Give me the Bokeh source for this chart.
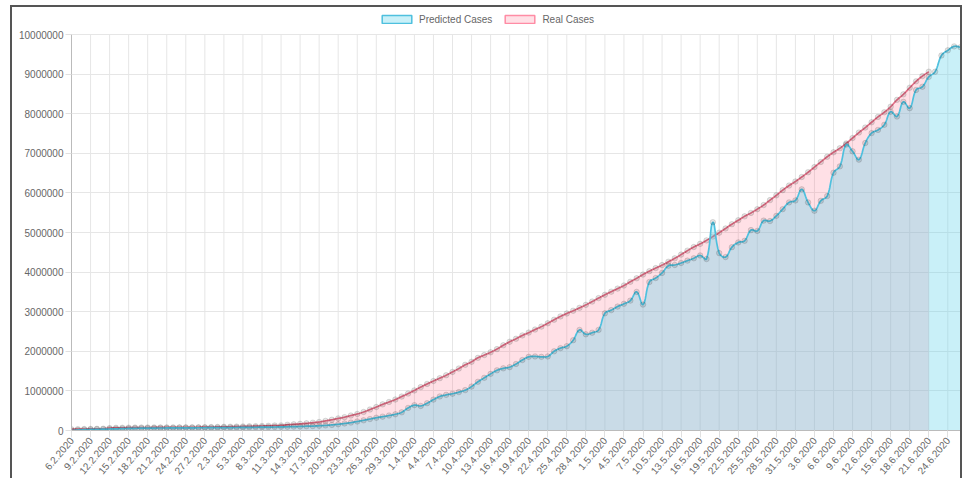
import numpy as np
import pandas as pd
from bokeh.plotting import figure
from bokeh.models import Range1d, FixedTicker, Legend, LegendItem
from bokeh.embed import file_html
from bokeh.resources import INLINE

# ---------------- data ----------------
# daily categories (the source data has no 29 Feb)
dates = [f"{d.day}.{d.month}.2020" for d in pd.date_range("2020-02-06", "2020-06-26")
         if not (d.month == 2 and d.day == 29)]

predicted_cases = [
    0, 12000, 20000, 26000, 30000, 34000, 38000, 42000, 48000, 52000,
    56000, 58000, 60000, 62000, 63000, 64000, 65000, 66000, 67000, 68000,
    69000, 70000, 71000, 72000, 73000, 74000, 76000, 78000, 80000, 82000,
    84000, 86000, 88000, 92000, 95000, 98000, 102000, 108000, 112000, 120000,
    130000, 142000, 158000, 178000, 200000, 228000, 258000, 290000, 322000, 350000,
    378000, 410000, 460000, 570000, 640000, 620000, 690000, 780000, 860000, 900000,
    930000, 970000, 1020000, 1110000, 1230000, 1330000, 1430000, 1520000, 1570000, 1600000,
    1680000, 1780000, 1860000, 1870000, 1860000, 1870000, 2000000, 2080000, 2130000, 2280000,
    2540000, 2430000, 2470000, 2540000, 2960000, 3040000, 3130000, 3200000, 3280000, 3500000,
    3180000, 3750000, 3850000, 3980000, 4160000, 4180000, 4230000, 4290000, 4350000, 4420000,
    4330000, 5260000, 4480000, 4380000, 4630000, 4750000, 4790000, 5060000, 5040000, 5300000,
    5290000, 5420000, 5590000, 5760000, 5810000, 6090000, 5760000, 5550000, 5800000, 5920000,
    6510000, 6670000, 7220000, 7050000, 6840000, 7260000, 7510000, 7590000, 7720000, 8050000,
    7930000, 8300000, 8140000, 8600000, 8680000, 8930000, 9060000, 9470000, 9600000, 9700000,
    9680000,
]

real_cases = [
    31500, 34400, 37100, 40200, 42800, 45200, 60400, 66900, 69000, 71200,
    73300, 75200, 75700, 76700, 77800, 78600, 78900, 79600, 80400, 81400,
    82700, 84100, 86000, 90300, 92800, 95100, 97900, 101800, 105800, 109800,
    113600, 118600, 125900, 128300, 145200, 156100, 167400, 181500, 197100, 214900,
    242700, 272200, 304500, 336900, 378200, 418000, 467700, 529600, 593300, 660700,
    720100, 782400, 857500, 932600, 1013000, 1096000, 1176000, 1250000, 1322000, 1396000,
    1480000, 1565000, 1658000, 1735000, 1835000, 1905000, 1976000, 2056000, 2152000, 2240000,
    2317000, 2401000, 2472000, 2549000, 2624000, 2708000, 2797000, 2881000, 2955000, 3024000,
    3097000, 3173000, 3256000, 3343000, 3427000, 3506000, 3583000, 3662000, 3755000, 3845000,
    3938000, 4024000, 4101000, 4177000, 4261000, 4347000, 4442000, 4542000, 4634000, 4713000,
    4801000, 4897000, 4996000, 5102000, 5210000, 5310000, 5408000, 5495000, 5590000, 5694000,
    5818000, 5940000, 6070000, 6185000, 6288000, 6402000, 6522000, 6652000, 6782000, 6912000,
    7026000, 7128000, 7250000, 7386000, 7523000, 7650000, 7784000, 7918000, 8037000, 8177000,
    8350000, 8489000, 8655000, 8817000, 8950000, 9060000,
]

y_ticks = [0, 1000000, 2000000, 3000000, 4000000, 5000000,
           6000000, 7000000, 8000000, 9000000, 10000000]
x_tick_step = 3

series_names = ["Predicted Cases", "Real Cases"]

# ---------------- helpers ----------------
SX = 6.32      # px per category (approx.)
SY = 39.9e-6   # px per case (approx.)
YMAX = 10000000
Y_TOP = YMAX * 423 / 396   # extra headroom inside the frame for the legend


def smooth(vals, tension=0.4, steps=8):
    """Chart.js-like bezier smoothing of a daily series (for drawing only)."""
    n = len(vals)
    px = np.arange(n) * SX
    py = np.asarray(vals, dtype=float) * SY
    cpp = np.zeros((n, 2))
    cpn = np.zeros((n, 2))
    for i in range(n):
        pi, ni = max(i - 1, 0), min(i + 1, n - 1)
        prev = np.array([px[pi], py[pi]])
        cur = np.array([px[i], py[i]])
        nxt = np.array([px[ni], py[ni]])
        d01 = np.hypot(*(cur - prev))
        d12 = np.hypot(*(nxt - cur))
        tot = d01 + d12
        s01 = d01 / tot if tot else 0.0
        s12 = d12 / tot if tot else 0.0
        cpp[i] = cur - tension * s01 * (nxt - prev)
        cpn[i] = cur + tension * s12 * (nxt - prev)
    cpp[:, 1] = np.clip(cpp[:, 1], 0, YMAX * SY)
    cpn[:, 1] = np.clip(cpn[:, 1], 0, YMAX * SY)
    xs, ys = [px[0]], [py[0]]
    t = np.linspace(0, 1, steps + 1)[1:]
    for i in range(n - 1):
        p0 = np.array([px[i], py[i]])
        p3 = np.array([px[i + 1], py[i + 1]])
        p1, p2 = cpn[i], cpp[i + 1]
        b = ((1 - t) ** 3)[:, None] * p0 + (3 * (1 - t) ** 2 * t)[:, None] * p1 \
            + (3 * (1 - t) * t ** 2)[:, None] * p2 + (t ** 3)[:, None] * p3
        xs.extend(b[:, 0])
        ys.extend(b[:, 1])
    return np.array(xs) / SX, np.array(ys) / SY


# ---------------- figure ----------------
FONT = "Liberation Sans"
p = figure(width=952, height=473, output_backend="svg", toolbar_location=None,
           x_range=Range1d(0, len(dates) - 1), y_range=Range1d(0, Y_TOP),
           min_border_left=59, min_border_top=0, min_border_right=4, min_border_bottom=40,
           background_fill_color="white", border_fill_color="white",
           styles={"margin-left": "10px", "margin-top": "5px",
                   "border-left": "2px solid #555", "border-top": "2px solid #555",
                   "border-right": "2px solid #555"})
p.outline_line_color = None

pink = (255, 99, 132)
pink_line = (228, 110, 134)
cyan = (90, 210, 235)
cyan_line = (78, 192, 222)
grid_col = "#e6e6e6"

x_ticks = list(range(0, len(dates), x_tick_step))

# vertical grid lines (limited to the value range 0..10M)
p.segment(x0=x_ticks, y0=[0] * len(x_ticks), x1=x_ticks, y1=[YMAX] * len(x_ticks),
          line_color=grid_col, line_width=1)

# Real cases (drawn first)
rx, ry = smooth(real_cases)
p.varea(x=rx, y1=0, y2=ry, fill_color=pink, fill_alpha=0.2)
p.line(rx, ry, line_color=pink_line, line_width=1.7)
p.scatter(list(range(len(real_cases))), real_cases, size=5.5,
          fill_color="black", fill_alpha=0.1, line_color="black", line_alpha=0.12)

# Predicted cases (on top)
qx, qy = smooth(predicted_cases)
p.varea(x=qx, y1=0, y2=qy, fill_color=cyan, fill_alpha=0.33)
p.line(qx, qy, line_color=cyan_line, line_width=1.7)
p.scatter(list(range(len(predicted_cases))), predicted_cases, size=5.5,
          fill_color="black", fill_alpha=0.1, line_color="black", line_alpha=0.12)

# legend swatches: quads placed outside the visible x range (only their legend glyphs show)
leg_pred = p.quad(left=[-20], right=[-19], top=[1], bottom=[0], fill_color=cyan, fill_alpha=0.33,
                  line_color=cyan_line, line_width=1.5)
leg_real = p.quad(left=[-20], right=[-19], top=[1], bottom=[0], fill_color=pink, fill_alpha=0.2,
                  line_color=(255, 140, 165), line_width=1.5)
legend = Legend(items=[LegendItem(label=series_names[0], renderers=[leg_pred]),
                       LegendItem(label=series_names[1], renderers=[leg_real])],
                orientation="horizontal", location=(307, 405),
                glyph_width=37, glyph_height=10, label_standoff=4, spacing=9,
                padding=0, margin=0, label_height=12,
                label_text_font=FONT, label_text_font_size="10px", label_text_color="#666666",
                border_line_color=None, background_fill_alpha=0)
p.add_layout(legend, "center")

# axes
p.xaxis.ticker = FixedTicker(ticks=x_ticks)
p.xaxis.major_label_overrides = {i: dates[i] for i in x_ticks}
p.xaxis.major_label_orientation = 0.87
p.yaxis.ticker = FixedTicker(ticks=y_ticks)
p.yaxis.major_label_overrides = {v: str(v) for v in y_ticks}
p.yaxis.bounds = (0, YMAX)

for ax in (p.xaxis, p.yaxis):
    ax.axis_line_color = "#bbbbbb"
    ax.axis_line_width = 1
    ax.major_tick_line_color = "#e0e0e0"
    ax.major_tick_in = 0
    ax.minor_tick_line_color = None
    ax.major_label_text_font = FONT
    ax.major_label_text_font_size = "10px"
    ax.major_label_text_color = "#666666"
p.xaxis.major_tick_out = 7
p.xaxis.major_label_standoff = 1
p.yaxis.major_tick_out = 6
p.yaxis.major_label_standoff = 2

p.xgrid.visible = False
p.ygrid.ticker = FixedTicker(ticks=y_ticks)
p.ygrid.grid_line_color = grid_col
p.ygrid.grid_line_width = 1

open("out.html", "w").write(file_html(p, INLINE))
